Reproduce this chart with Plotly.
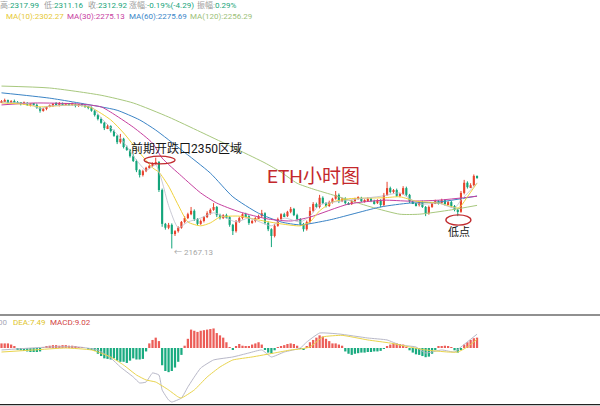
import plotly.graph_objects as go

W, H = 600, 406
FONT = "Roboto, 'Noto Sans CJK SC', sans-serif"

# ---------------- hourly candles (ETH) ----------------
first_open = 2470.0
closes = [
    2472, 2474, 2470, 2472, 2470, 2468, 2466, 2468, 2464, 2466,
    2464, 2458, 2452, 2456, 2460, 2462, 2466, 2464, 2468, 2464,
    2466, 2464, 2466, 2462, 2464, 2462, 2460, 2458, 2452, 2443,
    2435, 2427, 2416, 2420, 2410, 2400, 2387, 2394, 2377, 2371,
    2358, 2348, 2329, 2319, 2327, 2334, 2338, 2342, 2346, 2288,
    2218, 2210, 2216, 2197, 2203, 2210, 2222, 2230, 2238, 2245,
    2228, 2218, 2224, 2232, 2240, 2247, 2253, 2236, 2230, 2236,
    2232, 2216, 2203, 2222, 2230, 2238, 2234, 2220, 2224, 2230,
    2234, 2240, 2220, 2207, 2193, 2214, 2228, 2238, 2234, 2243,
    2249, 2236, 2228, 2218, 2207, 2222, 2245, 2259, 2253, 2272,
    2261, 2255, 2263, 2270, 2278, 2265, 2270, 2261, 2259, 2265,
    2270, 2272, 2265, 2267, 2270, 2265, 2261, 2267, 2257, 2278,
    2292, 2284, 2288, 2276, 2280, 2292, 2278, 2265, 2261, 2257,
    2263, 2253, 2240, 2253, 2261, 2265, 2261, 2267, 2259, 2263,
    2255, 2247, 2243, 2282, 2303, 2294, 2298, 2317.21, 2312.92,
]
upper_wick = [
    2, 3, 1, 2, 3, 2, 1, 3, 2, 2,
    1, 3, 2, 2, 1, 3, 2, 4, 2, 1,
    2, 2, 3, 1, 2, 2, 1, 2, 3, 2,
    2, 3, 2, 4, 2, 3, 2, 10, 2, 3,
    2, 4, 3, 2, 3, 2, 2, 3, 9, 2,
    3, 2, 4, 3, 2, 3, 2, 4, 3, 8,
    3, 2, 3, 2, 4, 3, 8, 2, 3, 2,
    3, 2, 2, 4, 3, 2, 3, 2, 3, 2,
    3, 7, 2, 3, 2, 4, 3, 2, 3, 2,
    4, 2, 3, 2, 2, 3, 8, 4, 3, 6,
    3, 2, 3, 2, 8, 3, 2, 3, 2, 3,
    2, 3, 2, 2, 3, 2, 3, 2, 2, 4,
    13, 3, 2, 3, 2, 4, 3, 2, 2, 3,
    2, 3, 2, 3, 2, 3, 2, 3, 2, 2,
    3, 2, 2, 4, 6, 3, 4, 3, 0.78,
]
lower_wick = [
    2, 1, 3, 2, 1, 2, 3, 2, 2, 3,
    2, 2, 4, 2, 3, 1, 2, 2, 3, 2,
    1, 2, 2, 3, 2, 1, 2, 3, 2, 3,
    3, 2, 4, 2, 3, 2, 4, 3, 3, 2,
    3, 2, 4, 5, 3, 2, 2, 2, 2, 4,
    6, 4, 3, 29.87, 4, 3, 2, 3, 2, 2,
    4, 3, 2, 3, 2, 3, 2, 4, 3, 2,
    3, 4, 8, 3, 2, 3, 2, 4, 2, 3,
    2, 3, 3, 4, 23, 3, 2, 3, 2, 2,
    3, 2, 3, 4, 5, 3, 2, 3, 2, 3,
    2, 3, 2, 3, 2, 4, 2, 3, 2, 2,
    3, 2, 2, 3, 2, 2, 3, 2, 5, 3,
    2, 3, 3, 2, 3, 2, 3, 4, 2, 3,
    3, 2, 6, 3, 2, 2, 3, 2, 3, 2,
    3, 3, 9, 2, 3, 3, 2, 2, 1.76,
]

# ---------------- moving averages (candle index, value) ----------------
ma5_idx = [0, 9, 12, 15, 28, 31, 37, 42, 45, 48, 50, 52, 55, 58, 62, 66, 73, 77,
           84, 88, 93, 96, 99, 108, 119, 124, 130, 136, 141, 143, 146, 148]
ma5_val = [2470, 2466, 2456, 2462, 2460, 2437, 2396, 2350, 2329, 2340, 2305, 2256,
           2210, 2222, 2230, 2241, 2222, 2230, 2214, 2230, 2222, 2234, 2257, 2267,
           2276, 2282, 2259, 2261, 2251, 2267, 2288, 2303]

ma10_idx = [0, 6, 12, 17, 23, 28, 34, 38, 43, 47, 49, 52, 55, 58, 62, 65, 68, 74,
            80, 87, 93, 96, 99, 103, 108, 119, 124, 129, 136, 142, 143, 145, 148]
ma10_val = [2468, 2466, 2460, 2462, 2464, 2458, 2433, 2406, 2365, 2334, 2325, 2296,
            2257, 2222, 2214, 2220, 2232, 2234, 2226, 2218, 2214, 2222, 2245, 2263,
            2270, 2272, 2274, 2265, 2261, 2251, 2255, 2274, 2302.27]

ma30_idx = [0, 10, 24, 31, 34, 41, 47, 50, 56, 62, 67, 74, 83, 90, 96, 108, 119,
            127, 136, 148]
ma30_val = [2464, 2468, 2466, 2460, 2449, 2418, 2385, 2354, 2317, 2282, 2261, 2243,
            2228, 2224, 2232, 2259, 2267, 2265, 2267, 2275.13]

ma60_idx = [0, 15, 31, 36, 43, 48, 56, 65, 72, 80, 87, 93, 102, 118, 127, 136, 148]
ma60_val = [2489, 2478, 2460, 2453, 2433, 2412, 2371, 2323, 2274, 2240, 2222, 2216,
            2226, 2253, 2261, 2263, 2275.69]

ma120_idx = [0, 15, 31, 41, 52, 62, 82, 87, 92, 97, 104, 115, 124, 130, 140, 148]
ma120_val = [2503, 2499, 2484, 2468, 2439, 2408, 2344, 2325, 2302, 2290, 2276, 2253,
             2238, 2238, 2247, 2256.29]

# ---------------- MACD ----------------
macd_hist = [
    4, 4, 4, 3, 1, -1, -2, -2.5, -3, -3.5,
    -3.5, -3.5, -3, 0.5, 1.5, 2, 2.5, 2.5, 2, 2.5,
    2.5, 2, 2, 1.5, 0.5, 0.5, 0, -1, -1.5, -2.5,
    -5, -7, -9, -9.5, -10, -9, -11, -12, -12, -13,
    -11, -9, -10, -10, -9.5, -3, 4, 7, 9, 6,
    -15, -20, -21, -20, -17, -12, -6, 2, 8, 16,
    15, 14, 15, 15.5, 16, 16.5, 17, 13, 11, 9,
    5, 0.5, -1.5, 1, 3.5, 2, 1, 1, 3, 4,
    5, 3, -1, -4, -5, -2, 0.5, 1, 2.5, 3.5,
    4, 3.5, 2, -0.5, -1.5, 1, 5, 7, 9, 11,
    10, 8, 6, 4, 4, 3, 2, -3, -5, -6,
    -5, -4.5, -4, -4, -3.5, -3.5, -3, -3, -2.5, -0.5,
    1.5, 3, 4, 4, 3.5, 3, 0.5, -2, -4, -5.5,
    -6, -7, -8, -7.5, -5, -1, 1, 1.5, 2, 1.5,
    0.5, -2, -4, -1, 3, 5, 7, 8.5, 9.02,
]
dif_idx = [0, 15, 24, 30, 34, 37, 41, 43, 45, 47, 49, 50, 52, 53, 56, 58, 60, 62,
           66, 72, 77, 81, 84, 88, 93, 95, 99, 105, 114, 120, 124, 129, 132, 137,
           141, 143, 148]
dif_val = [-1.7, 0.9, 0.9, -1.7, -8.7, -16.5, -25.2, -30.4, -29.6, -21.7, -23.5,
           -36.5, -45.2, -47, -43.5, -33.9, -25.2, -17.4, -10.4, -7.8, -4.3, -1.7,
           -7.8, -3.5, 0, 5.2, 13, 12.2, 8.7, 7, 2.6, 0.9, -4.3, -1.7, -3.5, 0.9,
           12.00]
dea_idx = [0, 10, 20, 28, 34, 38, 42, 45, 48, 52, 55, 56, 60, 64, 68, 72, 78, 85,
           90, 93, 96, 100, 106, 114, 121, 127, 132, 139, 142, 145, 148]
dea_val = [-3.5, -1.7, 0, -1.7, -7.8, -14.8, -23.5, -27.8, -29.6, -36.5, -42.6,
           -43.5, -36.5, -25.2, -16.5, -10.4, -7.8, -4.3, -1.7, -0.9, 0.9, 9.6,
           11, 7, 4.3, 0.9, -1.7, -3.5, -3.5, 0.9, 7.49]

# ---------------- derived OHLC ----------------
n = len(closes)
idx = list(range(n))
opens = [first_open] + closes[:-1]
highs = [max(o, c) + u for o, c, u in zip(opens, closes, upper_wick)]
lows = [min(o, c) - d for o, c, d in zip(opens, closes, lower_wick)]

UP = "#e8432d"
DOWN = "#14a57b"
HIST_UP = "#ec5d58"
HIST_DN = "#1aab80"

fig = go.Figure()


def wick_trace(sel, color):
    xs, ys = [], []
    for i in sel:
        xs += [i, i, None]
        ys += [lows[i], highs[i], None]
    return go.Scatter(x=xs, y=ys, mode="lines", line=dict(color=color, width=1),
                      hoverinfo="skip", yaxis="y")


def body_trace(sel, color):
    return go.Bar(
        x=sel,
        y=[max(abs(closes[i] - opens[i]), 1.2) for i in sel],
        base=[min(opens[i], closes[i]) for i in sel],
        width=0.66, marker=dict(color=color, line=dict(width=0)), yaxis="y",
    )


up_sel = [i for i in idx if closes[i] >= opens[i]]
dn_sel = [i for i in idx if closes[i] < opens[i]]

fig.add_trace(wick_trace(up_sel, UP))
fig.add_trace(wick_trace(dn_sel, DOWN))
fig.add_trace(body_trace(up_sel, UP))
fig.add_trace(body_trace(dn_sel, DOWN))

for xs, ys, col, wd in [
    (ma120_idx, ma120_val, "#a8c87e", 1.0),
    (ma60_idx, ma60_val, "#3b84c6", 1.0),
    (ma30_idx, ma30_val, "#c63f9f", 1.0),
    (ma10_idx, ma10_val, "#f0d23c", 1.0),
    (ma5_idx, ma5_val, "#bdbdca", 0.8),
]:
    fig.add_trace(go.Scatter(x=xs, y=ys, mode="lines",
                             line=dict(color=col, width=wd, shape="spline", smoothing=0.6),
                             hoverinfo="skip", yaxis="y"))

# MACD panel
fig.add_trace(go.Bar(x=idx, y=macd_hist, width=0.7,
                     marker=dict(color=[HIST_UP if v >= 0 else HIST_DN for v in macd_hist],
                                 line=dict(width=0)),
                     yaxis="y2"))
fig.add_trace(go.Scatter(x=dif_idx, y=dif_val, mode="lines",
                         line=dict(color="#b8b8c8", width=1, shape="spline", smoothing=0.4),
                         yaxis="y2"))
fig.add_trace(go.Scatter(x=dea_idx, y=dea_val, mode="lines",
                         line=dict(color="#e9d44c", width=1, shape="spline", smoothing=0.4),
                         yaxis="y2"))


# ---------------- text ----------------
def px(x):
    return x / W


def py(y):
    return 1 - y / H


def label(x, y, text, size, color, anchor="left"):
    return dict(x=px(x), y=py(y), xref="paper", yref="paper", text=text,
                showarrow=False, xanchor=anchor, yanchor="middle",
                font=dict(family=FONT, size=size, color=color))


GRAY = "#9c9c9c"
VAL = "#17a57a"
chg = closes[-1] - opens[-1]
pct = chg / opens[-1] * 100
amp = (highs[-1] - lows[-1]) / opens[-1] * 100


def kv(k, v):
    return f'<span style="color:{GRAY}">{k}</span>{v}'


annotations = [
    label(-2, 5.5, kv("高:", f"{highs[-1]:.2f}"), 8, VAL),
    label(42, 5.5, kv("低:", f"{lows[-1]:.2f}"), 8, VAL),
    label(86, 5.5, kv("收:", f"{closes[-1]:.2f}"), 8, VAL),
    label(127, 5.5, kv("涨幅:", f"{pct:.2f}%({chg:.2f})"), 8, VAL),
    label(195, 5.5, kv("振幅:", f"{amp:.2f}%"), 8, VAL),
    label(4, 16.5, f"MA(10):{ma10_val[-1]:.2f}", 8, "#e6c936"),
    label(65, 16.5, f"MA(30):{ma30_val[-1]:.2f}", 8, "#c8419f"),
    label(127, 16.5, f"MA(60):{ma60_val[-1]:.2f}", 8, "#3a86c8"),
    label(188, 16.5, f"MA(120):{ma120_val[-1]:.2f}", 8, "#9cbf7a"),
    label(9, 322, f"DIF:{dif_val[-1]:.2f}", 8, "#a8a8b8", anchor="right"),
    label(11, 322, f"DEA:{dea_val[-1]:.2f}", 8, "#e0c428"),
    label(48, 322, f"MACD:{macd_hist[-1]:.2f}", 8, "#d24444"),
    label(172, 252, f"← {min(lows):.2f}", 8, "#a6a6a6"),
    label(129, 148.5, "前期开跌口2350区域", 12, "#161616"),
    label(265, 176.5, "ETH小时图", 19, "#c4282c"),
    label(459, 232, "低点", 11, "#161616", anchor="center"),
]

ELL = "#c02a2e"
shapes = [
    dict(type="circle", xref="x", yref="y", x0=44.4, x1=54.0, y0=2342, y1=2358,
         line=dict(color=ELL, width=1.3)),
    dict(type="circle", xref="x", yref="y", x0=138.3, x1=146.1, y0=2215.5, y1=2236.5,
         line=dict(color=ELL, width=1.3)),
    dict(type="line", xref="paper", yref="paper", x0=0, x1=1, y0=py(315), y1=py(315),
         line=dict(color="#222222", width=1.2)),
    dict(type="line", xref="paper", yref="paper", x0=0, x1=1, y0=py(404.6), y1=py(404.6),
         line=dict(color="#222222", width=1.2)),
]

fig.update_layout(
    width=W, height=H,
    margin=dict(l=0, r=0, t=0, b=0),
    paper_bgcolor="white", plot_bgcolor="white",
    showlegend=False, barmode="overlay",
    xaxis=dict(range=[-0.467, 186.27], visible=False, fixedrange=True),
    yaxis=dict(domain=[py(310), 1], range=[2039.9, 2681.0], visible=False),
    yaxis2=dict(domain=[py(405), py(315)], range=[-49.57, 28.70], visible=False,
                anchor="x"),
    annotations=annotations,
    shapes=shapes,
)

fig.write_html("out.html")
